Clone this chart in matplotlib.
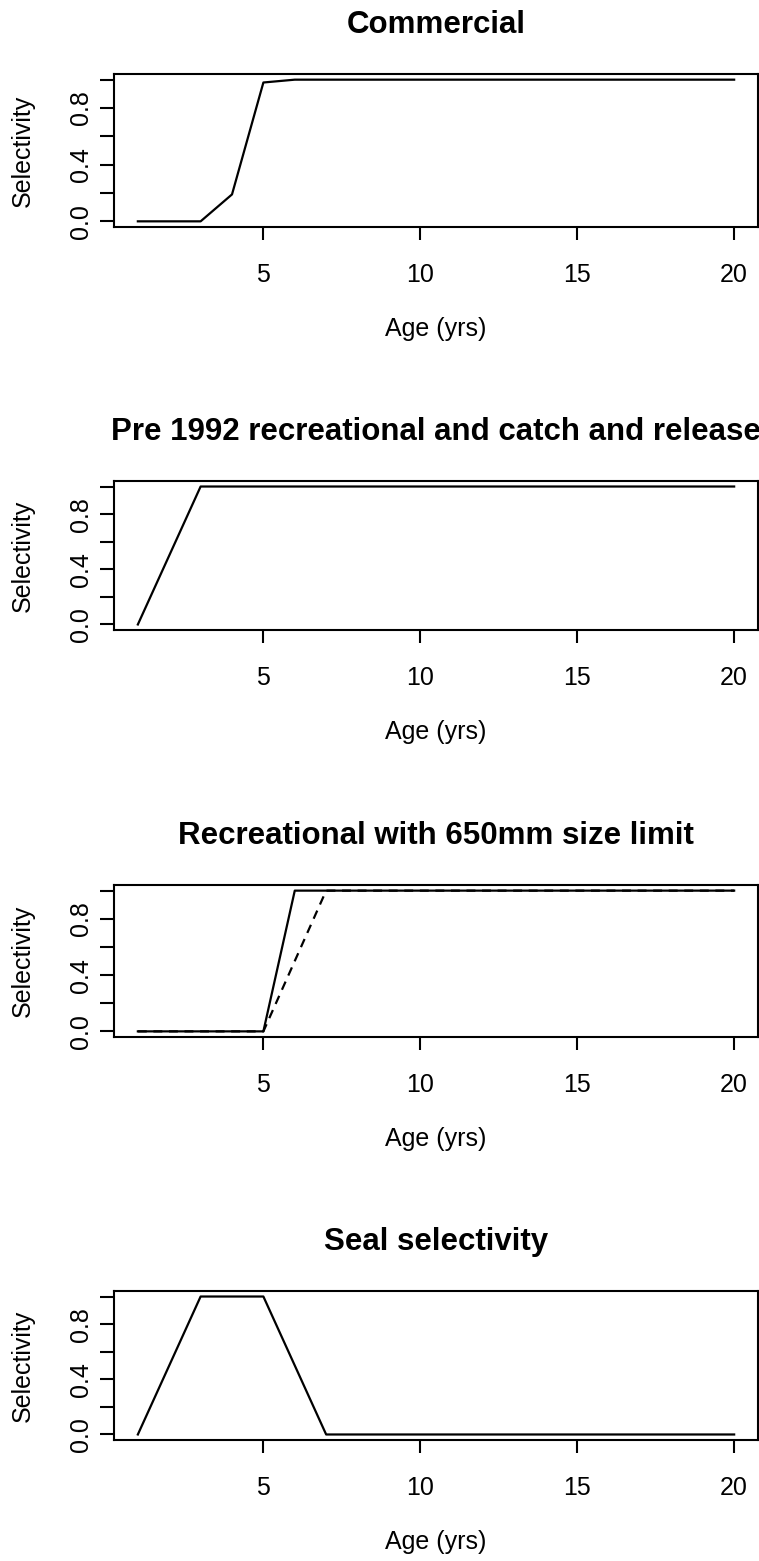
# Selectivity curves by fleet (R-style panels)
import numpy as np
import matplotlib
matplotlib.use('Agg')
import matplotlib.pyplot as plt

### Data
ages = np.arange(1, 21)

sel_commercial = [0, 0, 0, 0.19, 0.98, 1.0, 1.0, 1.0, 1.0, 1.0,
                  1.0, 1.0, 1.0, 1.0, 1.0, 1.0, 1.0, 1.0, 1.0, 1.0]
sel_pre1992 = [0, 0.5, 1.0, 1.0, 1.0, 1.0, 1.0, 1.0, 1.0, 1.0,
               1.0, 1.0, 1.0, 1.0, 1.0, 1.0, 1.0, 1.0, 1.0, 1.0]
sel_rec650_solid = [0, 0, 0, 0, 0, 1.0, 1.0, 1.0, 1.0, 1.0,
                    1.0, 1.0, 1.0, 1.0, 1.0, 1.0, 1.0, 1.0, 1.0, 1.0]
sel_rec650_dashed = [0, 0, 0, 0, 0, 0.5, 1.0, 1.0, 1.0, 1.0,
                     1.0, 1.0, 1.0, 1.0, 1.0, 1.0, 1.0, 1.0, 1.0, 1.0]
sel_seal = [0, 0.5, 1.0, 1.0, 1.0, 0.5, 0, 0, 0, 0,
            0, 0, 0, 0, 0, 0, 0, 0, 0, 0]

titles = ['Commercial',
          'Pre 1992 recreational and catch and release',
          'Recreational with 650mm size limit',
          'Seal selectivity']
xticks = [5, 10, 15, 20]
yticks = [0, 0.2, 0.4, 0.6, 0.8, 1.0]
ytick_labels = ['0.0', '', '0.4', '', '0.8', '']

plt.rcParams['font.family'] = ['Liberation Sans', 'DejaVu Sans']

W, H = 759, 1561
fig = plt.figure(figsize=(W / 100, H / 100), dpi=100)

# caixas dos paineis em pixels (topo, base)
tops = [74, 481, 885, 1291]
bottoms = [227, 630, 1037, 1440]
left_px, right_px = 114, 758

series = [
    [(sel_commercial, '-')],
    [(sel_pre1992, '-')],
    [(sel_rec650_solid, '-'), (sel_rec650_dashed, '--')],
    [(sel_seal, '-')],
]

for i in range(4):
    box_h = bottoms[i] - tops[i]
    box_w = right_px - left_px
    ax = fig.add_axes([left_px / W, 1 - bottoms[i] / H, box_w / W, box_h / H])
    for vals, ls in series[i]:
        if ls == '--':
            ax.plot(ages, vals, color='black', lw=1.6, linestyle=(0, (4, 3)))
        else:
            ax.plot(ages, vals, color='black', lw=1.6)
    ax.set_xlim(0.24, 20.76)
    ax.set_ylim(-0.04, 1.04)
    ax.set_xticks(xticks)
    ax.set_xticklabels([str(t) for t in xticks])
    ax.set_yticks(yticks)
    ax.set_yticklabels(ytick_labels, rotation=90, va='center')
    ax.tick_params(axis='x', length=9, width=1.5, pad=17, labelsize=18)
    ax.tick_params(axis='y', length=10, width=1.5, pad=5, labelsize=18)
    for sp in ax.spines.values():
        sp.set_linewidth(1.5)
    ax.set_xlabel('Age (yrs)', fontsize=18)
    ax.xaxis.set_label_coords(0.5, -90 / box_h)
    ax.set_ylabel('Selectivity', fontsize=18)
    ax.yaxis.set_label_coords(-79 / box_w, 0.5)
    ax.set_title(titles[i], fontsize=22.5, fontweight='bold', pad=29.5)

fig.savefig('out.png', dpi=100)
